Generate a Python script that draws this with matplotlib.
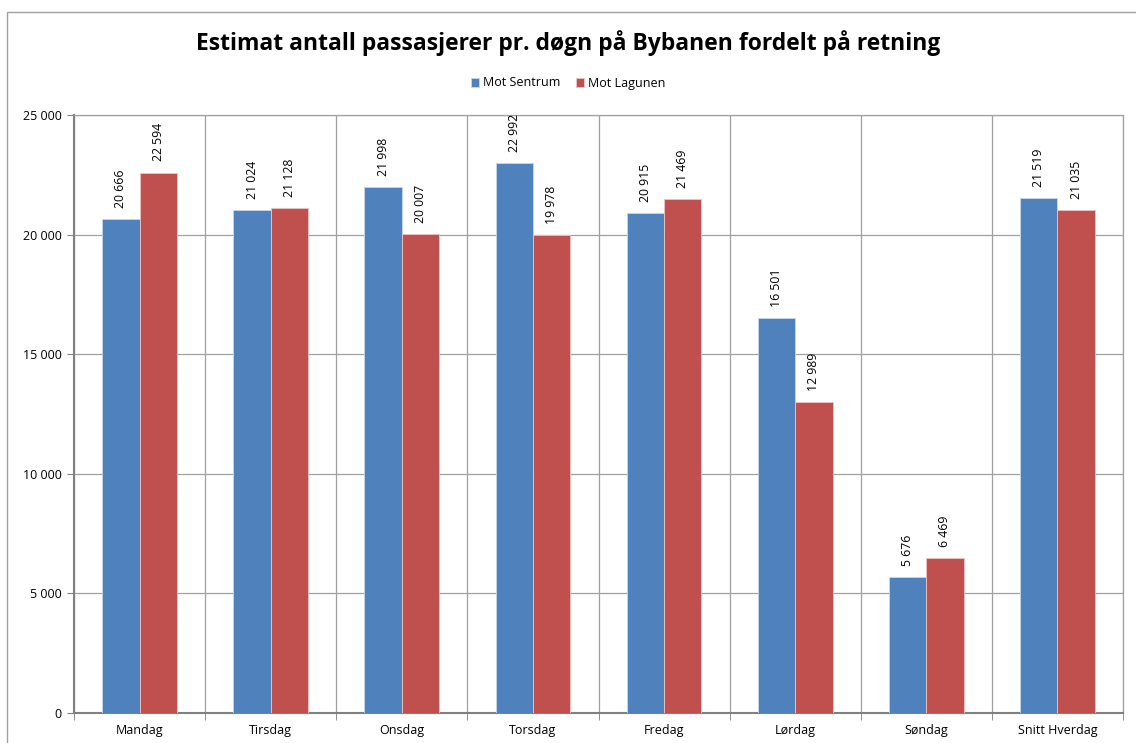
import numpy as np
import matplotlib
matplotlib.use("Agg")
import matplotlib.pyplot as plt
from matplotlib.patches import Rectangle

# Data
days = ["Mandag", "Tirsdag", "Onsdag", "Torsdag", "Fredag", "Lørdag", "Søndag", "Snitt Hverdag"]
mot_sentrum = [20666, 21024, 21998, 22992, 20915, 16501, 5676, 21519]
mot_lagunen = [22594, 21128, 20007, 19978, 21469, 12989, 6469, 21035]
y_ticks = [0, 5000, 10000, 15000, 20000, 25000]

blue = "#4F81BD"
red = "#C0504D"


def fmt(v):
    return f"{v:,}".replace(",", " ")


plt.rcParams["font.family"] = ["Open Sans", "DejaVu Sans"]

fig = plt.figure(figsize=(11.36, 7.43), dpi=100)
ax = fig.add_axes([74 / 1136, 1 - 713 / 743, (1123 - 74) / 1136, (713 - 115) / 743])

# outer chart border
fig.patches.append(Rectangle((7 / 1136, -0.05), 1.1, 1 - 12 / 743 + 0.05,
                             transform=fig.transFigure, fill=False,
                             edgecolor="#A0A0A0", linewidth=1.0))

x = np.arange(len(days))
w = 0.285
b1 = ax.bar(x - w / 2, mot_sentrum, w, color=blue, edgecolor="#C9D7EA",
            linewidth=0.6, label="Mot Sentrum", zorder=3)
b2 = ax.bar(x + w / 2, mot_lagunen, w, color=red, edgecolor="#EBC6C5",
            linewidth=0.6, label="Mot Lagunen", zorder=3)

for bars, vals in [(b1, mot_sentrum), (b2, mot_lagunen)]:
    for rect, v in zip(bars, vals):
        ax.annotate(fmt(v), (rect.get_x() + rect.get_width() / 2, v),
                    xytext=(0, 8), textcoords="offset points",
                    rotation=90, ha="center", va="bottom", fontsize=8.8)

ax.set_xlim(-0.5, len(days) - 0.5)
ax.set_ylim(0, 25000)
ax.set_yticks(y_ticks)
ax.set_yticklabels([fmt(v) for v in y_ticks], fontsize=9)
ax.set_xticks(x)
ax.set_xticklabels(days, fontsize=9)
ax.tick_params(axis="x", length=0, pad=8)
ax.tick_params(axis="y", length=5, color="#808080", pad=4)

# grid lines
ax.set_xticks(np.arange(-0.5, len(days) + 0.5, 1), minor=True)
ax.tick_params(axis="x", which="minor", length=5, color="#808080", direction="out")
ax.grid(axis="y", color="#A0A0A0", linewidth=0.9, zorder=0)
ax.grid(axis="x", which="minor", color="#A0A0A0", linewidth=0.9, zorder=0)
ax.grid(axis="x", which="major", visible=False)

for s in ["top", "right"]:
    ax.spines[s].set_color("#A0A0A0")
    ax.spines[s].set_linewidth(0.9)
for s in ["left", "bottom"]:
    ax.spines[s].set_color("#808080")
    ax.spines[s].set_linewidth(1.5)

fig.text(0.5, 1 - 43 / 743, "Estimat antall passasjerer pr. døgn på Bybanen fordelt på retning",
         ha="center", va="center", fontsize=16.5, fontweight="bold")

fig.legend(handles=[b1, b2], loc="center", bbox_to_anchor=(0.5, 1 - 83 / 743),
           ncol=2, frameon=False, fontsize=9, handlelength=0.7, handleheight=0.7,
           handletextpad=0.3, columnspacing=1.2)

fig.savefig("out.png", dpi=100)
